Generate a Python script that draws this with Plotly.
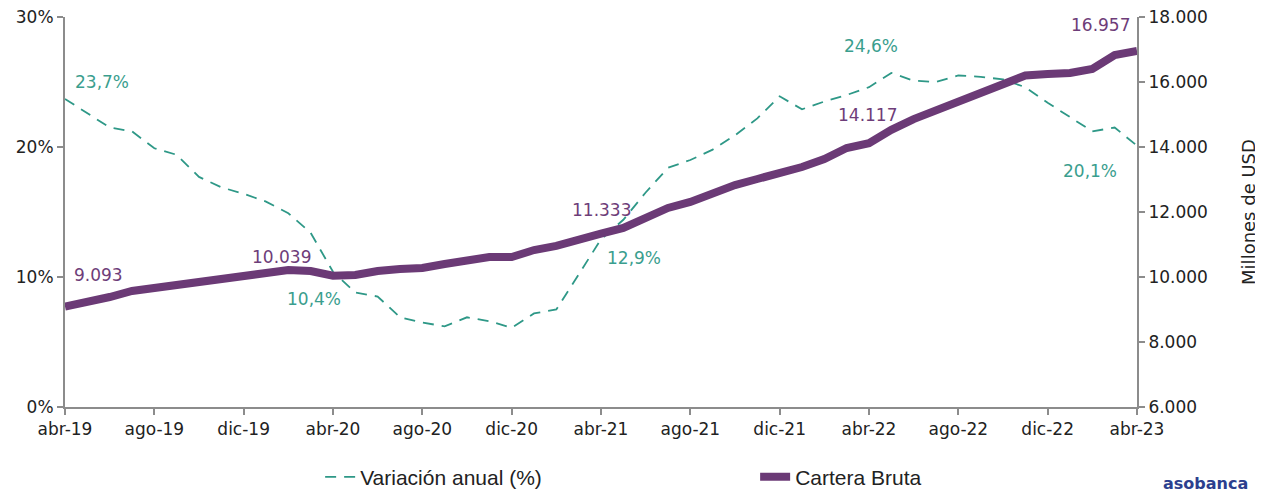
import plotly.graph_objects as go

meses = ["abr-19", "may-19", "jun-19", "jul-19", "ago-19", "sep-19", "oct-19", "nov-19", "dic-19",
         "ene-20", "feb-20", "mar-20", "abr-20", "may-20", "jun-20", "jul-20", "ago-20", "sep-20",
         "oct-20", "nov-20", "dic-20", "ene-21", "feb-21", "mar-21", "abr-21", "may-21", "jun-21",
         "jul-21", "ago-21", "sep-21", "oct-21", "nov-21", "dic-21", "ene-22", "feb-22", "mar-22",
         "abr-22", "may-22", "jun-22", "jul-22", "ago-22", "sep-22", "oct-22", "nov-22", "dic-22",
         "ene-23", "feb-23", "mar-23", "abr-23"]

variacion = [23.7, 22.6, 21.5, 21.2, 19.9, 19.4, 17.7, 16.9, 16.4, 15.8, 14.9, 13.4, 10.4,
             8.8, 8.5, 6.9, 6.5, 6.2, 6.9, 6.6, 6.1, 7.2, 7.5, 10.2, 12.9, 14.4, 16.5, 18.4,
             19.0, 19.8, 20.9, 22.2, 23.9, 22.9, 23.5, 24.0, 24.6, 25.7, 25.1, 25.0, 25.5,
             25.4, 25.2, 24.6, 23.4, 22.3, 21.2, 21.5, 20.1]

cartera = [9093, 9230, 9385, 9570, 9660, 9785, 9880, 9940, 10030, 10090, 10215, 10185, 10039,
           10060, 10185, 10245, 10275, 10400, 10525, 10615, 10615, 10830, 10955, 11170, 11333,
           11510, 11845, 12125, 12310, 12585, 12830, 13015, 13170, 13385, 13630, 13970, 14117,
           14530, 14860, 15140, 15415, 15690, 15970, 16200, 16245, 16275, 16400, 16830, 16957]

tick_meses = ["abr-19", "ago-19", "dic-19", "abr-20", "ago-20", "dic-20", "abr-21", "ago-21",
              "dic-21", "abr-22", "ago-22", "dic-22", "abr-23"]

etiquetas_pct = ["abr-19", "abr-20", "abr-21", "abr-22", "abr-23"]
etiquetas_usd = ["abr-19", "abr-20", "abr-21", "abr-22", "abr-23"]

TEAL = "#2e9887"
TEAL_TXT = "#3a9e8e"
PURPLE = "#6b3a76"
PURPLE_TXT = "#6e3d79"
AXIS = "#8c8c8c"
FONT = "DejaVu Sans"

fig = go.Figure()
fig.add_trace(go.Scatter(
    x=meses, y=variacion, name="Variación anual (%)", mode="lines",
    line=dict(color=TEAL, width=1.8, dash="11px,8px"), yaxis="y"))
fig.add_trace(go.Scatter(
    x=meses, y=cartera, name="Cartera Bruta", mode="lines",
    line=dict(color=PURPLE, width=8), yaxis="y2"))

def fmt_pct(v):
    return f"{v:.1f}".replace(".", ",") + "%"

def fmt_usd(v):
    return f"{v:,.0f}".replace(",", ".")

pct_off = [(8, 17, "left"), (-19, -27, "center"), (33, -19, "center"), (2, 41, "center"), (-47, -25, "center")]
usd_off = [(7, 31, "left"), (-52, 19, "center"), (0, 24, "center"), (-2, 28, "center"), (-37, 26, "center")]

annotations = []
for m, (dx, dy, xa) in zip(etiquetas_pct, pct_off):
    v = variacion[meses.index(m)]
    annotations.append(dict(x=m, y=v, xref="x", yref="y", text=fmt_pct(v), showarrow=False,
                            xshift=dx, yshift=dy, xanchor=xa, yanchor="middle",
                            font=dict(family=FONT, size=17, color=TEAL_TXT)))
for m, (dx, dy, xa) in zip(etiquetas_usd, usd_off):
    v = cartera[meses.index(m)]
    annotations.append(dict(x=m, y=v, xref="x", yref="y2", text=fmt_usd(v), showarrow=False,
                            xshift=dx, yshift=dy, xanchor=xa, yanchor="middle",
                            font=dict(family=FONT, size=17, color=PURPLE_TXT)))

annotations.append(dict(x=1.064, y=-0.197, xref="paper", yref="paper", text="<b>asobanca</b>",
                        showarrow=False, xanchor="center", yanchor="middle",
                        font=dict(family=FONT, size=16, color="#2c3f8e")))

# page body adds an 8px offset, so the figure is 8px smaller on each axis
fig.update_layout(
    width=1255, height=484,
    margin=dict(l=57, r=126, t=9, b=85, autoexpand=False),
    plot_bgcolor="white", paper_bgcolor="white",
    separators=",.",
    font=dict(family=FONT, size=17, color="#222222"),
    showlegend=True,
    legend=dict(orientation="h", x=0.238, y=-0.18, xanchor="left", yanchor="middle",
                entrywidth=390, font=dict(family="Liberation Sans", size=21, color="#222222"),
                bgcolor="rgba(0,0,0,0)"),
    xaxis=dict(type="category", range=[0, 48], tickmode="array", tickvals=tick_meses,
               ticktext=tick_meses, showgrid=False, showline=True, linecolor=AXIS, linewidth=2,
               ticks="outside", ticklen=6, tickwidth=1.5, tickcolor=AXIS, zeroline=False,
               automargin=False, ticklabeloverflow="allow",
               tickfont=dict(family=FONT, size=17, color="#222222")),
    yaxis=dict(range=[0, 30], dtick=10, ticksuffix="%", showgrid=False, showline=True,
               linecolor=AXIS, linewidth=2, ticks="outside", ticklen=6, tickwidth=1.5,
               tickcolor=AXIS, zeroline=False, automargin=False, ticklabeloverflow="allow",
               tickfont=dict(family=FONT, size=17, color="#222222")),
    yaxis2=dict(range=[6000, 18000], dtick=2000, tickformat=",d", overlaying="y", side="right",
                showgrid=False, showline=True, linecolor=AXIS, linewidth=2, ticks="outside",
                ticklen=6, tickwidth=1.5, tickcolor=AXIS, zeroline=False, automargin=False,
                ticklabeloverflow="allow",
                title=dict(text="Millones de USD", standoff=36,
                           font=dict(family=FONT, size=18, color="#222222")),
                tickfont=dict(family=FONT, size=17, color="#222222")),
    annotations=annotations,
)

fig.write_html("out.html")
